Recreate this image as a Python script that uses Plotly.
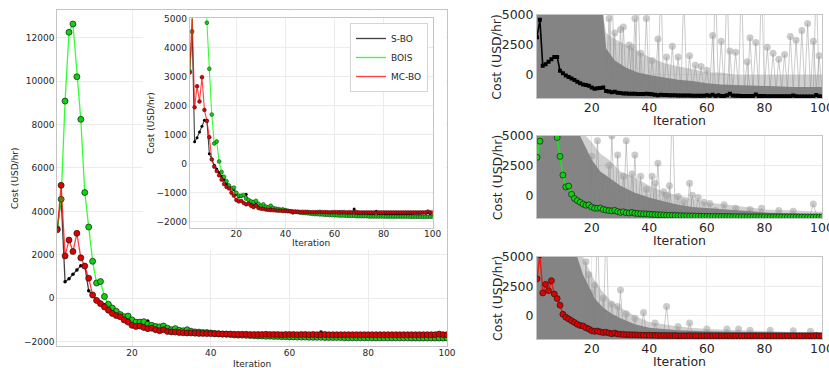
import plotly.graph_objects as go

# ---------------- data ----------------
iterations = list(range(1, 101))

sbo = [3150, 4600, 760, 900, 1100, 1300, 1500, 1500, 350, 150,
       -50, -180, -300, -430, -560, -700, -800, -850, -900, -1050,
       -1150, -1120, -1100, -1050, -1350, -1380, -1450, -1400, -1480, -1500,
       -1540, -1550, -1570, -1560, -1580, -1600, -1590, -1600, -1560, -1600,
       -1620, -1650, -1700, -1660, -1670, -1680, -1690, -1700, -1700, -1710,
       -1710, -1720, -1720, -1720, -1730, -1730, -1730, -1740, -1740, -1700,
       -1740, -1660, -1750, -1700, -1750, -1750, -1700, -1560, -1720, -1740,
       -1740, -1750, -1750, -1760, -1760, -1760, -1640, -1750, -1760, -1760,
       -1770, -1770, -1770, -1770, -1780, -1770, -1780, -1780, -1780, -1720,
       -1780, -1790, -1790, -1790, -1790, -1800, -1800, -1680, -1780, -1800]

bois = [3200, 4560, 9080, 12250, 12630, 10200, 8240, 4870, 3280, 1700,
        700, 770, 80, -280, -450, -600, -750, -850, -820, -1000,
        -1100, -1100, -1080, -1200, -1250, -1300, -1320, -1280, -1380, -1450,
        -1400, -1480, -1500, -1450, -1520, -1550, -1560, -1580, -1580, -1600,
        -1620, -1640, -1650, -1660, -1670, -1690, -1700, -1700, -1710, -1720,
        -1730, -1740, -1740, -1750, -1750, -1760, -1760, -1770, -1770, -1780,
        -1780, -1790, -1790, -1790, -1800, -1800, -1800, -1800, -1810, -1810,
        -1810, -1810, -1810, -1820, -1820, -1820, -1820, -1820, -1820, -1820,
        -1825, -1825, -1825, -1825, -1825, -1825, -1825, -1825, -1825, -1825,
        -1830, -1830, -1830, -1830, -1830, -1830, -1830, -1830, -1830, -1830]

mcbo = [3150, 5200, 1950, 2680, 2150, 2990, 1860, 1480, 920, 150,
        -100, -250, -400, -550, -700, -800, -850, -1000, -1100, -1250,
        -1300, -1280, -1350, -1400, -1380, -1450, -1500, -1450, -1530, -1550,
        -1560, -1580, -1590, -1600, -1600, -1610, -1620, -1620, -1630, -1630,
        -1640, -1640, -1650, -1650, -1650, -1660, -1660, -1660, -1660, -1670,
        -1670, -1670, -1670, -1660, -1670, -1670, -1670, -1680, -1670, -1670,
        -1670, -1680, -1670, -1670, -1680, -1670, -1680, -1680, -1670, -1680,
        -1680, -1680, -1680, -1680, -1680, -1680, -1680, -1680, -1680, -1680,
        -1680, -1680, -1680, -1680, -1680, -1680, -1680, -1680, -1680, -1680,
        -1680, -1680, -1680, -1680, -1680, -1680, -1680, -1650, -1680, -1680]

# envelopes of the many individual runs (grey band) for the right panels
env1_it = [1, 24, 25, 28, 32, 36, 40, 45, 50, 55, 60, 65, 70, 80, 90, 100]
dense1 = [5000, 5000, 2200, 1200, 600, 200, 0, -200, -400, -500, -700, -800, -850, -900, -1000, -1000]
haze1 = [5000, 5000, 3500, 3000, 2500, 2000, 1500, 1000, 700, 500, 200, 200, 0, 0, 0, 0]

env2_it = [1, 16, 18, 20, 23, 26, 30, 35, 40, 45, 50, 55, 60, 70, 80, 90, 100]
dense2 = [5000, 5000, 4000, 3000, 2000, 1500, 800, 200, -200, -500, -800, -1000, -1100, -1300, -1450, -1550, -1600]
haze2 = [5000, 5000, 5000, 4500, 3500, 3000, 2000, 1500, 800, 300, 0, -300, -600, -900, -1200, -1300, -1400]

env3_it = [1, 15, 17, 19, 21, 24, 27, 30, 35, 40, 50, 60, 70, 80, 90, 100]
dense3 = [5000, 5000, 3500, 2500, 1500, 700, 200, -200, -700, -1000, -1200, -1300, -1350, -1400, -1450, -1450]
haze3 = [5000, 5000, 5000, 4000, 3000, 2000, 1200, 700, 0, -500, -900, -1100, -1200, -1300, -1350, -1350]

# isolated high-cost runs (spikes) for the right panels
spk1_it = [26, 27, 28, 30, 31, 33, 34, 35, 36, 37, 39, 41, 43, 44, 46, 48, 50, 52, 54, 56, 58, 60,
           62, 63, 65, 67, 68, 70, 72, 74, 75, 77, 79, 81, 83, 85, 87, 89, 91, 93, 95, 97, 98, 99]
spk1_v = [4700, 8000, 3500, 3800, 4000, 2500, 2300, 4700, 8000, 1800, 4700, 1200, 3000, 8000, 1500,
          2400, 1500, 7000, 1600, 800, 700, 400, 3300, 8000, 2800, 8000, 2000, 1900, 8000, 1100, 3100,
          2700, 8000, 2300, 1800, 1300, 1700, 3200, 2900, 3700, 4300, 2800, 8000, 1600]
spk1_base = -1200

spk2_it = [20, 22, 24, 26, 27, 29, 31, 32, 34, 35, 37, 39, 41, 42, 43, 45, 46, 47, 48, 50, 52,
           54, 55, 57, 59, 61, 63, 66, 70, 75, 79, 85, 90, 97]
spk2_v = [3300, 4600, 1500, 2500, 5000, 3400, 1600, 4600, 1800, 3400, 1600, 500, 1600, 1000, 2700,
          300, 0, 800, 8000, -100, -600, 1000, 0, -200, -600, -700, -1300, -800, -1100, -1200,
          -1100, -1300, -1350, -750]
spk2_base = -1600

spk3_it = [18, 19, 20, 21, 22, 24, 25, 27, 29, 30, 32, 35, 38, 42, 46, 50, 54, 60, 67, 71, 75, 82, 90, 96]
spk3_v = [4600, 3500, 2000, 2600, 8000, 1500, 8000, 1000, 800, 2200, 200, -200, 300, -600, 800,
          -900, -600, -1100, -1100, -1100, -1200, -1200, -1250, -1300]
spk3_base = -1550

names = ["S-BO", "BOIS", "MC-BO"]
x_title = "Iteration"
y_title = "Cost (USD/hr)"

# ---------------- style ----------------
FONT = "DejaVu Sans"
TXT = "#262626"
GRID = "#ebebeb"
FRAME = "#c4c4c4"
LINE_C = {"S-BO": "rgba(0,0,0,0.75)", "BOIS": "rgba(0,255,0,0.8)", "MC-BO": "rgba(255,0,0,0.75)"}
MARK_C = {"S-BO": "#000000", "BOIS": "#10d010", "MC-BO": "#e00000"}
Y_FLOOR = -1950

fig = go.Figure()

series = {"S-BO": sbo, "BOIS": bois, "MC-BO": mcbo}
msize_main = {"S-BO": 3.5, "BOIS": 6, "MC-BO": 6}
msize_inset = {"S-BO": 3, "BOIS": 3.8, "MC-BO": 3.8}

# main plot
for n in names:
    fig.add_trace(go.Scatter(
        x=iterations, y=series[n], mode="lines+markers", xaxis="x", yaxis="y",
        line=dict(color=LINE_C[n], width=1.3), showlegend=False,
        marker=dict(size=msize_main[n], color=MARK_C[n],
                    line=dict(color="#1a1a1a", width=0.7 if n != "S-BO" else 0))))

# cover subplot (hides main grid behind the inset and its labels)
fig.add_trace(go.Scatter(x=[None], y=[None], xaxis="x2", yaxis="y2", showlegend=False, hoverinfo="skip"))

# inset
for n in names:
    fig.add_trace(go.Scatter(
        x=iterations, y=series[n], mode="lines+markers", xaxis="x3", yaxis="y3",
        line=dict(color=LINE_C[n], width=1.1), showlegend=False,
        marker=dict(size=msize_inset[n], color=MARK_C[n],
                    line=dict(color="#1a1a1a", width=0.5 if n != "S-BO" else 0))))
for n in names:
    fig.add_trace(go.Scatter(x=[None], y=[None], mode="lines", xaxis="x3", yaxis="y3", name=n,
                             line=dict(color=LINE_C[n], width=1.3)))

# right panels
panels = [
    ("x4", "y4", "S-BO", env1_it, dense1, haze1, spk1_it, spk1_v, spk1_base),
    ("x5", "y5", "BOIS", env2_it, dense2, haze2, spk2_it, spk2_v, spk2_base),
    ("x6", "y6", "MC-BO", env3_it, dense3, haze3, spk3_it, spk3_v, spk3_base),
]
for xa, ya, n, e_it, dn, hz, s_it, s_v, s_base in panels:
    # haze band
    fig.add_trace(go.Scatter(x=e_it, y=[Y_FLOOR] * len(e_it), mode="lines", line=dict(width=0),
                             xaxis=xa, yaxis=ya, showlegend=False, hoverinfo="skip"))
    fig.add_trace(go.Scatter(x=e_it, y=hz, mode="lines", line=dict(width=0, color="rgba(150,150,150,0.4)"),
                             fill="tonexty", fillcolor="rgba(150,150,150,0.45)",
                             xaxis=xa, yaxis=ya, showlegend=False, hoverinfo="skip"))
    # spikes
    sx, sy = [], []
    for it, v in zip(s_it, s_v):
        sx += [it - 1, it, it + 1, None]
        sy += [s_base, v, s_base, None]
    fig.add_trace(go.Scatter(x=sx, y=sy, mode="lines", line=dict(color="rgba(140,140,140,0.45)", width=1),
                             xaxis=xa, yaxis=ya, showlegend=False, hoverinfo="skip"))
    fig.add_trace(go.Scatter(x=s_it, y=s_v, mode="markers",
                             marker=dict(size=7, color="rgba(160,160,160,0.55)"),
                             xaxis=xa, yaxis=ya, showlegend=False, hoverinfo="skip"))
    # dense band
    fig.add_trace(go.Scatter(x=e_it, y=[Y_FLOOR] * len(e_it), mode="lines", line=dict(width=0),
                             xaxis=xa, yaxis=ya, showlegend=False, hoverinfo="skip"))
    fig.add_trace(go.Scatter(x=e_it, y=dn, mode="lines", line=dict(width=0, color="#858585"),
                             fill="tonexty", fillcolor="rgba(128,128,128,0.95)",
                             xaxis=xa, yaxis=ya, showlegend=False, hoverinfo="skip"))
    # best-so-far line
    if n == "S-BO":
        mk = dict(size=4, symbol="square", color="#000000")
        lw, lc = 1.6, "#000000"
    else:
        mk = dict(size=6, color=MARK_C[n], line=dict(color="#1a1a1a", width=0.7))
        lw, lc = 1.6, LINE_C[n]
    fig.add_trace(go.Scatter(x=iterations, y=series[n], mode="lines+markers", xaxis=xa, yaxis=ya,
                             line=dict(color=lc, width=lw), marker=mk, showlegend=False))

# ---------------- layout ----------------
def axis_common(size, standoff=0):
    return dict(showgrid=True, gridcolor=GRID, gridwidth=1, zeroline=False, showline=True, mirror=True,
                linecolor=FRAME, linewidth=1, ticks="", tickformat="d", automargin=False,
                ticklabeloverflow="allow", ticklabelstandoff=standoff,
                tickfont=dict(family=FONT, size=size, color=TXT))

W, H = 829, 368
def px_x(a, b):
    return [a / W, b / W]
def px_y(top, bottom):
    return [(H - bottom) / H, (H - top) / H]

fig.update_layout(
    width=W, height=H, margin=dict(l=0, r=0, t=0, b=0, pad=0), autosize=False,
    paper_bgcolor="white", plot_bgcolor="white",
    font=dict(family=FONT, color=TXT),
    showlegend=True,
    legend=dict(x=428 / W, y=(H - 23) / H, xanchor="right", yanchor="top", traceorder="normal",
                bgcolor="white", bordercolor="#d6d6d6", borderwidth=1,
                font=dict(family=FONT, size=9, color=TXT), itemwidth=30, tracegroupgap=0),
    xaxis=dict(domain=px_x(57.2, 447), range=[1, 100], dtick=20, tick0=0, anchor="y", **axis_common(9, -2)),
    yaxis=dict(domain=px_y(10, 346), range=[-2200, 13276], dtick=2000, anchor="x", **axis_common(9)),
    xaxis2=dict(domain=px_x(143, 446), anchor="y2", visible=False, showgrid=False, zeroline=False),
    yaxis2=dict(domain=px_y(11, 250), anchor="x2", visible=False, showgrid=False, zeroline=False),
    xaxis3=dict(domain=px_x(189.7, 432.7), range=[1, 100], dtick=20, tick0=0, anchor="y3", **axis_common(9, -3)),
    yaxis3=dict(domain=px_y(18.3, 228.3), range=[-2228, 5024], dtick=1000, anchor="x3", **axis_common(9)),
)

right_dom = px_x(537, 822)
right_frames = [(15, 98.3), (136, 218.3), (257, 339)]
for k, (top, bot) in zip([4, 5, 6], right_frames):
    fig.layout[f"xaxis{k}"] = dict(domain=right_dom, range=[1, 100], dtick=20, tick0=0, anchor=f"y{k}",
                                   **axis_common(12.5, -2))
    fig.layout[f"yaxis{k}"] = dict(domain=px_y(top, bot), range=[Y_FLOOR, 5000], tickvals=[0, 2500, 5000],
                                   anchor=f"x{k}", **axis_common(12.5))

# axis titles as annotations (precise placement)
def title_ann(text, xc, yc, size, vertical=False):
    fig.add_annotation(text=text, x=xc / W, y=(H - yc) / H, xref="paper", yref="paper",
                       showarrow=False, textangle=-90 if vertical else 0,
                       xanchor="center", yanchor="middle",
                       font=dict(family=FONT, size=size, color=TXT))

title_ann(x_title, 252, 363.5, 9)
title_ann(y_title, 15, 178, 9, vertical=True)
title_ann(x_title, 311, 243.3, 9)
title_ann(y_title, 150.7, 123, 9, vertical=True)
for top, bot in right_frames:
    title_ann(x_title, 679.5, bot + 22.4, 12.5)
    title_ann(y_title, 497, (top + bot) / 2, 12.5, vertical=True)

fig.write_html("out.html", config={"displayModeBar": False},
               post_script="document.body.style.margin='0';document.body.style.overflow='hidden';")
